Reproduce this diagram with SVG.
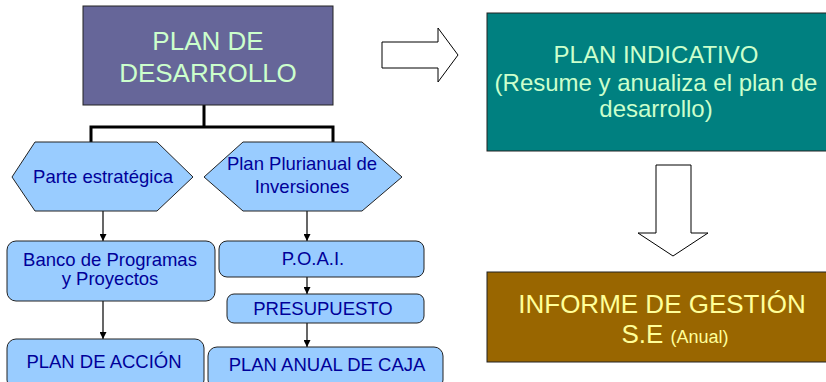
<svg xmlns="http://www.w3.org/2000/svg" width="826" height="382" viewBox="0 0 826 382">
<defs>
<marker id="ah" viewBox="0 0 10 10" refX="10" refY="5" markerWidth="7" markerHeight="7" markerUnits="userSpaceOnUse" orient="auto">
<path d="M0,0 L10,5 L0,10 z" fill="#000"/>
</marker>
<style>
text{font-family:"Liberation Sans",Arial,sans-serif;text-anchor:middle}
.blue{fill:#99CCFF;stroke:#222;stroke-width:1}
.bt{fill:#000099;font-size:18.5px}
.big{fill:#CCFFCC}
.thin{stroke:#000;stroke-width:1.2;fill:none;marker-end:url(#ah)}
.thick{stroke:#000;stroke-width:3;fill:none}
.block{fill:#fff;stroke:#000;stroke-width:1}
</style>
</defs>
<rect width="826" height="382" fill="#fff"/>
<g id="connectors">
<path class="thick" d="M204,105 V127 M91,142 V127 H333 V142"/>
<line class="thin" x1="103" y1="211" x2="103" y2="241"/>
<line class="thin" x1="307" y1="211" x2="307" y2="241"/>
<line class="thin" x1="103" y1="301" x2="103" y2="339"/>
<line class="thin" x1="307" y1="277" x2="307" y2="294"/>
<line class="thin" x1="307" y1="323" x2="307" y2="347"/>
<polygon class="block" points="382,42 438,42 438,28 458,55 438,82 438,68 382,68"/>
<polygon class="block" points="656,165 691,165 691,233 708,233 673,256 638,233 656,233"/>
</g>
<g id="plan-desarrollo">
<rect x="83" y="6" width="250" height="99" fill="#666699" stroke="#222" stroke-width="1"/>
<text class="big" x="208" y="50" font-size="26">PLAN DE</text>
<text class="big" x="208" y="82" font-size="26">DESARROLLO</text>
</g>
<g id="parte-estrategica">
<polygon class="blue" points="12,177 35,142 157,142 193,177 157,211 35,211"/>
<text class="bt" x="103" y="183">Parte estratégica</text>
</g>
<g id="plan-plurianual">
<polygon class="blue" points="204,177 243,142 362,142 402,177 362,211 243,211"/>
<text class="bt" x="302" y="170">Plan Plurianual de</text>
<text class="bt" x="302" y="193">Inversiones</text>
</g>
<g id="banco">
<rect class="blue" x="7" y="241" width="208" height="60" rx="9"/>
<text class="bt" x="110" y="266">Banco de Programas</text>
<text class="bt" x="110" y="285">y Proyectos</text>
</g>
<g id="poai">
<rect class="blue" x="219" y="241" width="205" height="36" rx="8"/>
<text class="bt" x="313" y="265">P.O.A.I.</text>
</g>
<g id="presupuesto">
<rect class="blue" x="227" y="294" width="197" height="29" rx="7"/>
<text class="bt" x="323" y="315">PRESUPUESTO</text>
</g>
<g id="plan-accion">
<rect class="blue" x="7" y="339" width="197" height="50" rx="9"/>
<text class="bt" x="104" y="368">PLAN DE ACCIÓN</text>
</g>
<g id="plan-caja">
<rect class="blue" x="208" y="347" width="235" height="42" rx="9"/>
<text class="bt" x="327" y="371">PLAN ANUAL DE CAJA</text>
</g>
<g id="plan-indicativo">
<rect x="487" y="13" width="345" height="138" fill="#008080" stroke="#222" stroke-width="1"/>
<text class="big" x="656" y="63" font-size="24">PLAN INDICATIVO</text>
<text class="big" x="656" y="91" font-size="24">(Resume y anualiza el plan de</text>
<text class="big" x="656" y="117" font-size="24">desarrollo)</text>
</g>
<g id="informe">
<rect x="487" y="272" width="345" height="90" fill="#996600" stroke="#222" stroke-width="1"/>
<text x="662" y="313" font-size="26" fill="#FFFF99">INFORME DE GESTIÓN</text>
<text x="675" y="343" font-size="26" fill="#FFFF99">S.E <tspan font-size="18">(Anual)</tspan></text>
</g>
</svg>
